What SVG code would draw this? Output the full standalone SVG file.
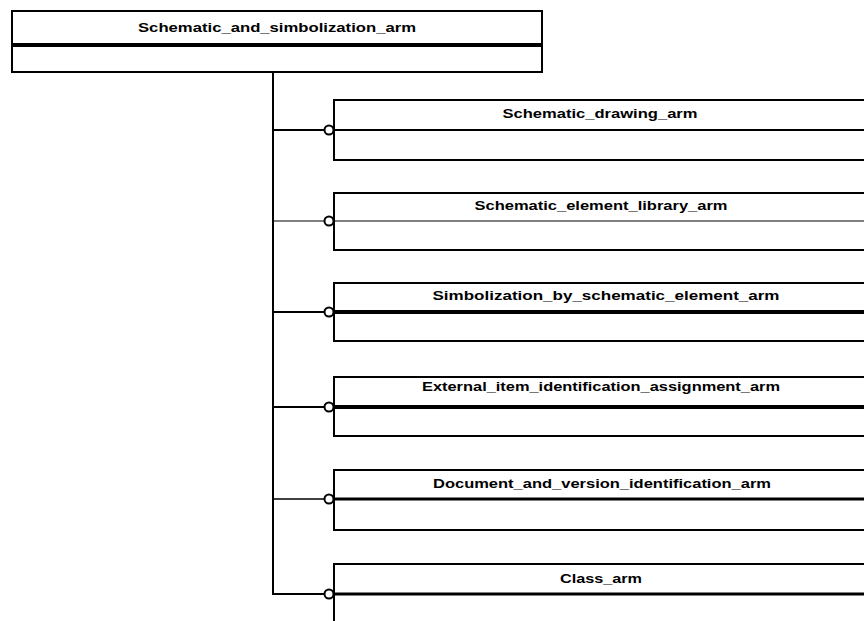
<svg xmlns="http://www.w3.org/2000/svg" width="864" height="621" viewBox="0 0 864 621">
<style>
.box{fill:#fff;stroke:#000;stroke-width:2}
.lbl{font-family:"Liberation Sans",Arial,sans-serif;font-weight:bold;font-size:13px;fill:#000}
.ln{fill:none;stroke:#000;stroke-width:2}
.ring{fill:#fff;stroke:#000;stroke-width:2}
</style>
<rect width="864" height="621" fill="#fff"/>
<g id="connectors">
<line class="ln" x1="273" y1="72" x2="273" y2="595"/>
<line class="ln" x1="272" y1="130" x2="325" y2="130"/>
<line class="ln" x1="272" y1="221" x2="325" y2="221" style="stroke-width:1.2"/>
<line class="ln" x1="272" y1="312" x2="325" y2="312"/>
<line class="ln" x1="272" y1="407" x2="325" y2="407"/>
<line class="ln" x1="272" y1="499" x2="325" y2="499" style="stroke-width:1.5"/>
<line class="ln" x1="272" y1="594" x2="325" y2="594"/>
</g>
<g id="n0">
<rect class="box" x="12" y="11" width="530" height="61"/>
<line class="ln" x1="12" y1="45" x2="542" y2="45" style="stroke-width:4"/>
<text class="lbl" x="277" y="32" text-anchor="middle" textLength="278" lengthAdjust="spacingAndGlyphs">Schematic_and_simbolization_arm</text>
</g>
<g id="n1">
<path class="ln" d="M870,100 H334 V160 H870"/>
<line class="ln" x1="334" y1="130" x2="870" y2="130"/>
<text class="lbl" x="600" y="118" text-anchor="middle" textLength="195" lengthAdjust="spacingAndGlyphs">Schematic_drawing_arm</text>
<circle class="ring" cx="329" cy="130" r="4.5"/>
</g>
<g id="n2">
<path class="ln" d="M870,193 H334 V250 H870"/>
<line class="ln" x1="334" y1="221" x2="870" y2="221" style="stroke-width:1.2"/>
<text class="lbl" x="601" y="210" text-anchor="middle" textLength="253" lengthAdjust="spacingAndGlyphs">Schematic_element_library_arm</text>
<circle class="ring" cx="329" cy="221" r="4.5"/>
</g>
<g id="n3">
<path class="ln" d="M870,283 H334 V341 H870"/>
<line class="ln" x1="334" y1="312" x2="870" y2="312" style="stroke-width:4"/>
<text class="lbl" x="606" y="300" text-anchor="middle" textLength="347" lengthAdjust="spacingAndGlyphs">Simbolization_by_schematic_element_arm</text>
<circle class="ring" cx="329" cy="312" r="4.5"/>
</g>
<g id="n4">
<path class="ln" d="M870,377 H334 V436 H870"/>
<line class="ln" x1="334" y1="407" x2="870" y2="407" style="stroke-width:4"/>
<text class="lbl" x="601" y="391" text-anchor="middle" textLength="358" lengthAdjust="spacingAndGlyphs">External_item_identification_assignment_arm</text>
<circle class="ring" cx="329" cy="407" r="4.5"/>
</g>
<g id="n5">
<path class="ln" d="M870,470 H334 V530 H870"/>
<line class="ln" x1="334" y1="499" x2="870" y2="499" style="stroke-width:3"/>
<text class="lbl" x="602" y="488" text-anchor="middle" textLength="338" lengthAdjust="spacingAndGlyphs">Document_and_version_identification_arm</text>
<circle class="ring" cx="329" cy="499" r="4.5"/>
</g>
<g id="n6">
<path class="ln" d="M870,564 H334 V625"/>
<line class="ln" x1="334" y1="594" x2="870" y2="594" style="stroke-width:3"/>
<text class="lbl" x="601" y="583" text-anchor="middle" textLength="82" lengthAdjust="spacingAndGlyphs">Class_arm</text>
<circle class="ring" cx="329" cy="594" r="4.5"/>
</g>
</svg>
